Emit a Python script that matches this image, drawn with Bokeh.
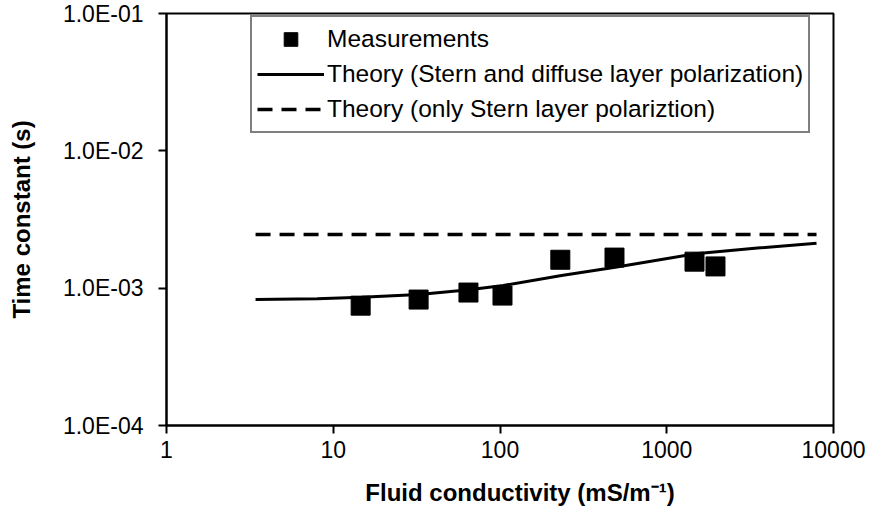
from bokeh.plotting import figure
from bokeh.models import FixedTicker, Legend, LegendItem
from bokeh.embed import file_html
from bokeh.resources import INLINE

# ---- data ----
meas_x = [14.6, 32.5, 64.7, 103.5, 230, 486, 1467, 1960]
meas_y = [7.46e-4, 8.26e-4, 9.29e-4, 8.83e-4, 1.61e-3, 1.67e-3, 1.56e-3, 1.44e-3]

theory_x = [3.42, 8, 14.8, 32.7, 65.3, 104.7, 234, 491, 1487, 3500, 7910]
theory_y = [8.26e-4, 8.37e-4, 8.59e-4, 8.98e-4, 9.72e-4, 1.045e-3, 1.236e-3,
            1.42e-3, 1.78e-3, 1.96e-3, 2.12e-3]

stern_x = [3.42, 7910]
stern_y = [2.46e-3, 2.46e-3]

x_ticks = [1, 10, 100, 1000, 10000]
x_tick_labels = ["1", "10", "100", "1000", "10000"]
y_ticks = [1e-4, 1e-3, 1e-2, 1e-1]
y_tick_labels = ["1.0E-04", "1.0E-03", "1.0E-02", "1.0E-01"]

legend_labels = ["Measurements",
                 "Theory (Stern and diffuse layer polarization)",
                 "Theory (only Stern layer polariztion)"]

x_title = "Fluid conductivity (mS/m\u207b\u00b9)"
y_title = "Time constant (s)"

FONT = "Liberation Sans"

p = figure(width=870, height=515, x_axis_type="log", y_axis_type="log",
           x_range=(1, 10000), y_range=(1e-4, 1e-1),
           output_backend="svg", toolbar_location=None,
           min_border_left=166, min_border_right=37,
           min_border_top=13, min_border_bottom=90)

p.background_fill_color = "white"
p.border_fill_color = "white"
p.outline_line_color = "black"
p.outline_line_width = 2
p.grid.visible = False

r_meas = p.scatter(meas_x, meas_y, marker="square", size=19,
                   fill_color="black", line_color="black")
r_th = p.line(theory_x, theory_y, line_color="black", line_width=3)
r_st = p.line(stern_x, stern_y, line_color="black", line_width=3.5,
              line_dash="15 9")

for ax, ticks, labels in ((p.xaxis[0], x_ticks, x_tick_labels),
                          (p.yaxis[0], y_ticks, y_tick_labels)):
    ax.ticker = FixedTicker(ticks=ticks, minor_ticks=[])
    ax.major_label_overrides = dict(zip(ticks, labels))
    ax.axis_line_width = 2
    ax.axis_line_color = "black"
    ax.major_tick_line_width = 2
    ax.major_tick_line_color = "black"
    ax.major_tick_in = 0
    ax.major_tick_out = 8
    ax.minor_tick_line_color = None
    ax.major_label_text_font = FONT
    ax.major_label_text_font_size = "23px"
    ax.major_label_text_color = "black"
    ax.axis_label_text_font = FONT
    ax.axis_label_text_font_size = "24px"
    ax.axis_label_text_font_style = "bold"
    ax.axis_label_text_color = "black"

# leading no-break spaces shift the centred title right, as in the reference
p.xaxis[0].axis_label = "\u00a0" * 6 + x_title
p.yaxis[0].axis_label = y_title
p.xaxis[0].major_label_standoff = 7
p.xaxis[0].axis_label_standoff = 18
p.yaxis[0].major_label_standoff = 15
p.yaxis[0].axis_label_standoff = 25

legend = Legend(items=[LegendItem(label=legend_labels[0], renderers=[r_meas]),
                       LegendItem(label=legend_labels[1], renderers=[r_th]),
                       LegendItem(label=legend_labels[2], renderers=[r_st])],
                location=(84, 292))
legend.label_text_font = FONT
legend.label_text_font_size = "24.5px"
legend.label_text_color = "black"
legend.glyph_width = 67
legend.glyph_height = 34
legend.label_height = 34
legend.label_standoff = 3
legend.spacing = 1
legend.padding = 5
legend.margin = 0
legend.border_line_color = "black"
legend.border_line_width = 2
legend.background_fill_color = "white"
legend.background_fill_alpha = 1
p.add_layout(legend)

open("out.html", "w").write(file_html(p, INLINE))
